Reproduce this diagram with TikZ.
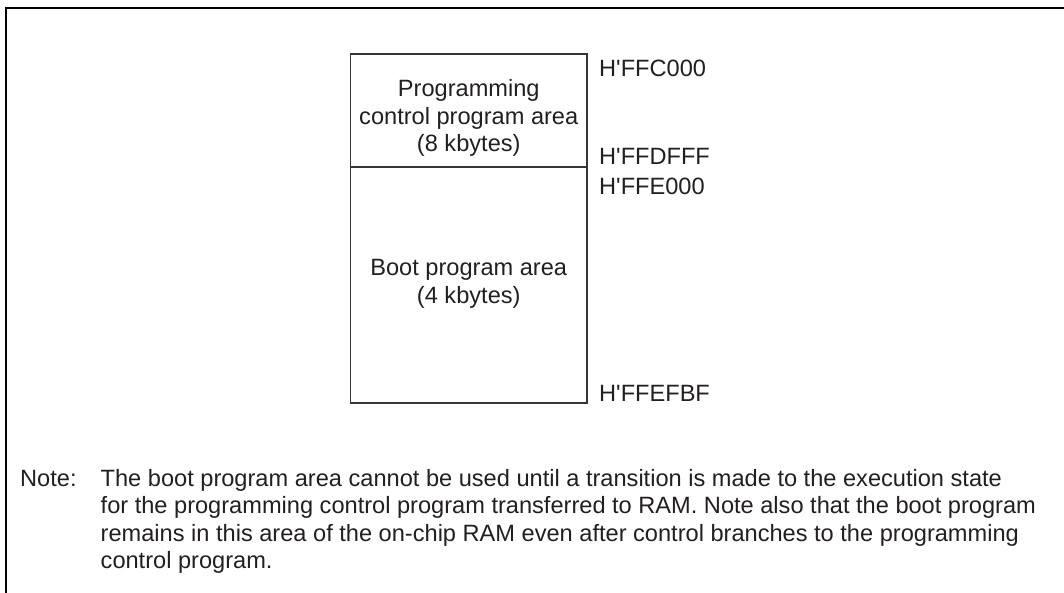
\documentclass[tikz,border=0pt]{standalone}
\usepackage{fontspec}
\setmainfont{Liberation Sans}
\definecolor{ink}{HTML}{231F20}
\begin{document}
\begin{tikzpicture}[x=1pt,y=-1pt,
  txt/.style={inner sep=0pt, text=ink, font=\fontsize{23.6}{27.5}\selectfont},
  ctr/.style={txt, anchor=base},
  lft/.style={txt, anchor=base west},
  frameline/.style={line width=2pt, draw=black},
  boxline/.style={line width=1.1pt, draw=ink!90}]
\useasboundingbox (0,0) rectangle (1064,593);
% outer frame (left and top)
\coordinate (fb) at (6,600);
\coordinate (fc) at (6,7.7);
\coordinate (fr) at (1070,7.7);
\draw[frameline] (fb) -- (fc) -- (fr);
% memory box
\coordinate (tl) at (350.5,54);
\coordinate (br) at (587,403);
\coordinate (dl) at (350.5,167);
\coordinate (dr) at (587,167);
\draw[boxline] (tl) rectangle (br);
\draw[boxline] (dl) -- (dr);
% box texts
\node[ctr] (p1) at (468.75,96.7) {Programming};
\node[ctr] (p2) at (468.75,124.2) {control program area};
\node[ctr] (p3) at (468.75,151.7) {(8 kbytes)};
\node[ctr] (b1) at (468.75,275.5) {Boot program area};
\node[ctr] (b2) at (468.75,303) {(4 kbytes)};
% addresses
\node[lft] (a1) at (599,76.7) {H\textquotesingle FFC000};
\node[lft] (a2) at (599,165) {H\textquotesingle FFDFFF};
\node[lft] (a3) at (599,195) {H\textquotesingle FFE000};
\node[lft] (a4) at (599,401) {H\textquotesingle FFEFBF};
% note
\node[lft] (note) at (20,486) {Note:};
\node[lft] (n1) at (100.5,486) {The boot program area cannot be used until a transition is made to the execution state};
\node[lft] (n2) at (100.5,513.5) {for the programming control program transferred to RAM. Note also that the boot program};
\node[lft] (n3) at (100.5,541) {remains in this area of the on-chip RAM even after control branches to the programming};
\node[lft] (n4) at (100.5,568.5) {control program.};
\end{tikzpicture}
\end{document}
